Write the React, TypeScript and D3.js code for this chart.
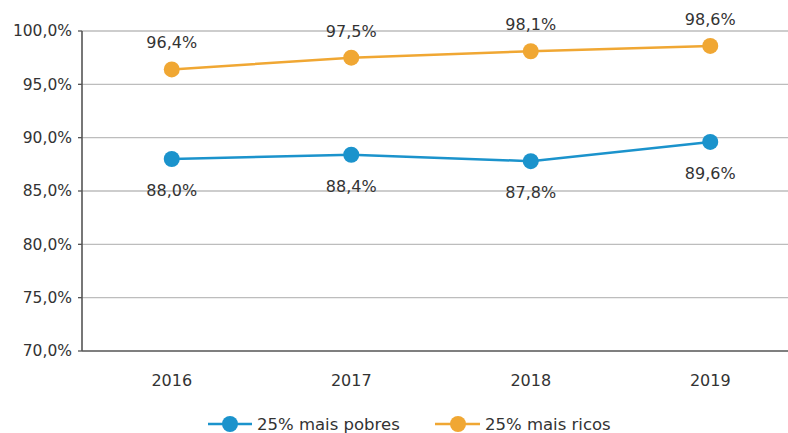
import React from "react";
import * as d3 from "d3";

const years = ["2016", "2017", "2018", "2019"];
const pobres = [88.0, 88.4, 87.8, 89.6];
const ricos = [96.4, 97.5, 98.1, 98.6];
const yTicks = [70, 75, 80, 85, 90, 95, 100];
const seriesNames = ["25% mais pobres", "25% mais ricos"];

const W = 788, H = 433;
const left = 82, top = 31, bottom = 351, right = 788;
const BLUE = "#1b93cc";
const ORANGE = "#f0a733";
const font = "DejaVu Sans, Verdana, sans-serif";

const fmt = (v: number) => v.toFixed(1).replace(".", ",") + "%";

export default function App() {
  const x = d3.scalePoint<string>().domain(years).range([left, 800]).padding(0.5);
  const y = d3.scaleLinear().domain([70, 100]).range([bottom, top]);
  const line = d3.line<number>().x((_, i) => x(years[i])!).y((d) => y(d));

  return (
    <svg width={W} height={H} style={{ position: "absolute", left: 0, top: 0, background: "#fff" }}>
      {yTicks.map((t) => (
        <g key={t}>
          {t !== 70 && <line x1={left} x2={right} y1={y(t)} y2={y(t)} stroke="#bdbdbd" strokeWidth={1.3} />}
          <line x1={left - 4} x2={left} y1={y(t)} y2={y(t)} stroke="#555" strokeWidth={1.3} />
          <text x={left - 10} y={y(t)} dy="0.35em" textAnchor="end" fontFamily={font} fontSize={15.5} fill="#333">
            {fmt(t)}
          </text>
        </g>
      ))}
      <line x1={left} x2={left} y1={top} y2={bottom} stroke="#555" strokeWidth={1.6} />
      <line x1={left} x2={right} y1={bottom} y2={bottom} stroke="#555" strokeWidth={1.6} />
      {years.map((yr) => (
        <text key={yr} x={x(yr)} y={bottom + 35} textAnchor="middle" fontFamily={font} fontSize={16} fill="#333">
          {yr}
        </text>
      ))}
      <path d={line(ricos)!} fill="none" stroke={ORANGE} strokeWidth={2.5} />
      <path d={line(pobres)!} fill="none" stroke={BLUE} strokeWidth={2.5} />
      {ricos.map((v, i) => (
        <g key={"r" + i}>
          <circle cx={x(years[i])} cy={y(v)} r={8} fill={ORANGE} />
          <text x={x(years[i])} y={y(v) - 21} textAnchor="middle" fontFamily={font} fontSize={16} fill="#333">
            {fmt(v)}
          </text>
        </g>
      ))}
      {pobres.map((v, i) => (
        <g key={"p" + i}>
          <circle cx={x(years[i])} cy={y(v)} r={8} fill={BLUE} />
          <text x={x(years[i])} y={y(v) + 37} textAnchor="middle" fontFamily={font} fontSize={16} fill="#333">
            {fmt(v)}
          </text>
        </g>
      ))}
      <g>
        <line x1={208} x2={252} y1={424} y2={424} stroke={BLUE} strokeWidth={2.5} />
        <circle cx={230} cy={424} r={8} fill={BLUE} />
        <text x={257} y={424} dy="0.35em" fontFamily={font} fontSize={16.5} fill="#333">{seriesNames[0]}</text>
        <line x1={435} x2={480} y1={424} y2={424} stroke={ORANGE} strokeWidth={2.5} />
        <circle cx={458} cy={424} r={8} fill={ORANGE} />
        <text x={485} y={424} dy="0.35em" fontFamily={font} fontSize={16.5} fill="#333">{seriesNames[1]}</text>
      </g>
    </svg>
  );
}
